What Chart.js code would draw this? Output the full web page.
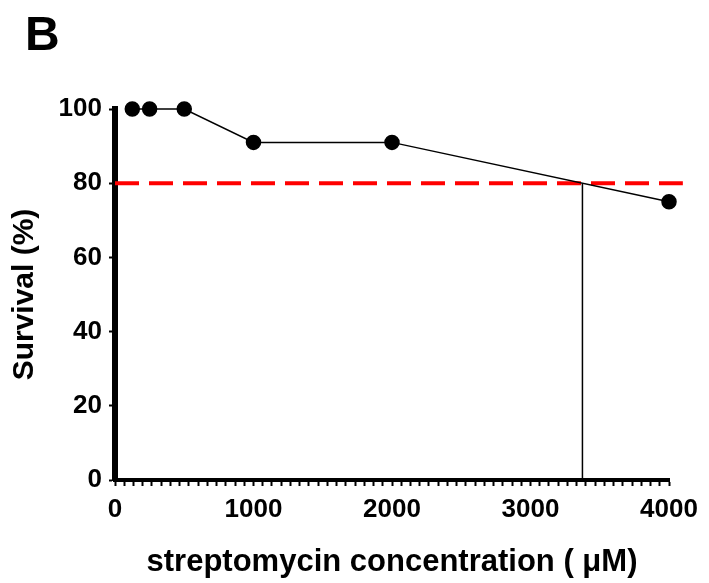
<!DOCTYPE html>
<html>
<head>
<meta charset="utf-8">
<script src="https://cdn.jsdelivr.net/npm/chart.js@4.4.0/dist/chart.umd.min.js"></script>
<style>
  html, body { margin: 0; padding: 0; background: #fff; }
  #wrap { width: 709px; height: 583px; }
</style>
</head>
<body>
<div id="wrap"><canvas id="chart" width="709" height="583"></canvas></div>
<script>
// streptomycin concentration (uM) and survival (%)
const concentrations = [125, 250, 500, 1000, 2000, 4000];
const survival = [100, 100, 100, 91, 91, 75];
const cutoff = 80;          // red dashed threshold
const cutoffDose = 3375;    // where the curve crosses the threshold
const xTickLabels = [0, 1000, 2000, 3000, 4000];
const yTickLabels = [0, 20, 40, 60, 80, 100];

const font = 'Liberation Sans, Arial, sans-serif';

// panel letter
const panelLabel = {
  id: 'panelLabel',
  afterDraw(chart) {
    const ctx = chart.ctx;
    ctx.save();
    ctx.font = 'bold 48px ' + font;
    ctx.fillStyle = '#000';
    ctx.textBaseline = 'alphabetic';
    ctx.fillText('B', 25, 50);
    ctx.restore();
  }
};

const ctx = document.getElementById('chart');
new Chart(ctx, {
  type: 'scatter',
  data: {
    datasets: [
      {
        data: concentrations.map((c, i) => ({ x: c, y: survival[i] })),
        showLine: true,
        borderColor: '#000',
        borderWidth: 1.5,
        backgroundColor: '#000',
        pointRadius: 7,
        pointHoverRadius: 7,
        clip: false
      },
      {
        data: [{ x: cutoffDose, y: 0 }, { x: cutoffDose, y: cutoff }],
        showLine: true,
        borderColor: '#000',
        borderWidth: 1.5,
        pointRadius: 0,
        clip: false
      },
      {
        data: [{ x: 0, y: cutoff }, { x: 4100, y: cutoff }],
        showLine: true,
        borderColor: '#ff0000',
        borderWidth: 4,
        borderDash: [24, 10],
        pointRadius: 0,
        clip: false
      }
    ]
  },
  options: {
    responsive: false,
    animation: false,
    events: [],
    layout: { padding: { top: 109, right: 40, left: 0, bottom: 0 } },
    plugins: { legend: { display: false }, tooltip: { enabled: false } },
    scales: {
      x: {
        type: 'linear',
        min: 0,
        max: 4000,
        afterFit(scale) { scale.height = 103; },
        afterBuildTicks(scale) {
          const t = [];
          for (let i = 0; i <= 60; i++) t.push({ value: i * 4000 / 60 });
          scale.ticks = t;
        },
        border: { display: true, color: '#000', width: 4 },
        grid: { drawOnChartArea: false, color: '#000', tickLength: 6, tickWidth: 2 },
        ticks: {
          autoSkip: false,
          maxRotation: 0,
          padding: 8,
          color: '#000',
          font: { family: font, size: 26, weight: 'bold' },
          callback: (v, i) => (i % 15 === 0 && xTickLabels.includes(Math.round(v))) ? Math.round(v) : ''
        },
        title: {
          display: true,
          text: 'streptomycin concentration ( μM)',
          color: '#000',
          font: { family: font, size: 31, weight: 'bold' },
          padding: { top: 0, bottom: 2 }
        }
      },
      y: {
        min: 0,
        max: 100,
        afterFit(scale) { scale.width = 115; },
        afterBuildTicks(scale) {
          scale.ticks = yTickLabels.map(v => ({ value: v }));
        },
        border: { display: true, color: '#000', width: 6 },
        grid: { drawOnChartArea: false, color: '#000', tickLength: 6, tickWidth: 2 },
        ticks: {
          padding: 7,
          color: '#000',
          font: { family: font, size: 26, weight: 'bold' }
        },
        title: {
          display: true,
          text: 'Survival (%)',
          color: '#000',
          font: { family: font, size: 30, weight: 'bold' },
          padding: { top: 7, bottom: 0 }
        }
      }
    }
  },
  plugins: [panelLabel]
});
</script>
</body>
</html>
